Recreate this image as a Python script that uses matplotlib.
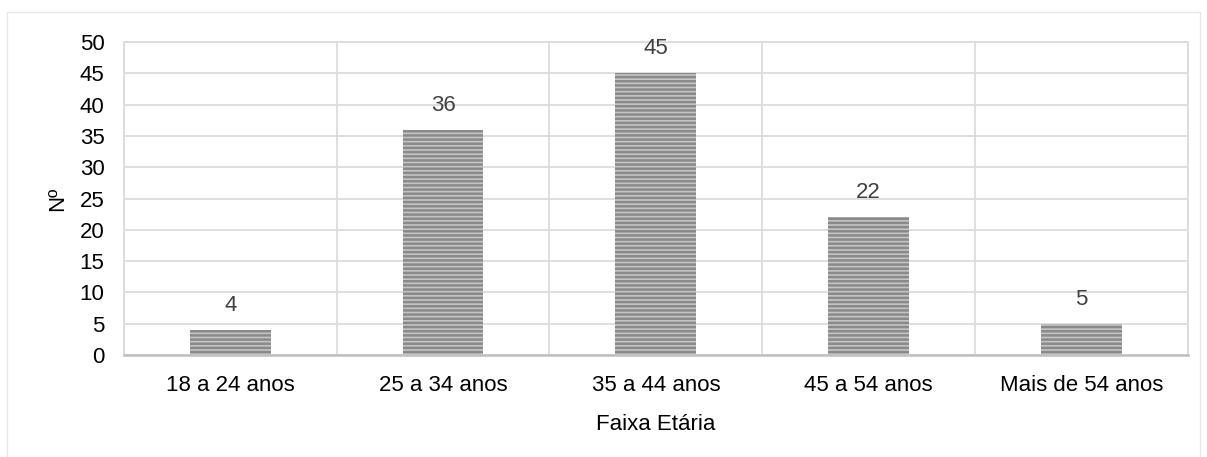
import matplotlib.pyplot as plt
import matplotlib.patches as mpatches
import numpy as np

plt.rcParams['font.family'] = ['Liberation Sans', 'DejaVu Sans']
plt.rcParams['hatch.color'] = '#5e5e5e'
plt.rcParams['hatch.linewidth'] = 1.8

faixas = ["18 a 24 anos", "25 a 34 anos", "35 a 44 anos", "45 a 54 anos", "Mais de 54 anos"]
numero = [4, 36, 45, 22, 5]

fig = plt.figure(figsize=(12.07, 4.57), dpi=100)
ax = fig.add_axes([0.1027, 0.223, 0.8813, 0.685])

# moldura clara do gráfico
fig.patches.append(mpatches.Rectangle((7 / 1207, -0.01), 1193 / 1207, 1 - 12 / 457 + 0.01,
                                      transform=fig.transFigure, fill=False,
                                      edgecolor='#e6e6e6', linewidth=1))

x = np.arange(len(faixas))
bars = ax.bar(x, numero, width=0.38, color='#c4c4c4', edgecolor='#8a8a8a',
              linewidth=0, hatch='----', zorder=3)

for xi, v in zip(x, numero):
    ax.annotate(str(v), (xi, v), xytext=(0, 10), textcoords='offset points',
                ha='center', va='bottom', fontsize=16, color='#404040')

ax.set_xlim(-0.5, len(faixas) - 0.5)
ax.set_ylim(0, 50)
ax.set_yticks(range(0, 51, 5))
ax.set_xticks(x)
ax.set_xticklabels(faixas)
ax.set_xticks(np.arange(-0.5, len(faixas), 1), minor=True)
ax.tick_params(axis='x', which='major', length=0, pad=14, labelsize=16)
ax.tick_params(axis='x', which='minor', length=0)
ax.tick_params(axis='y', length=0, pad=14, labelsize=16)

ax.grid(axis='y', color='#d9d9d9', linewidth=1.2, zorder=0)
ax.grid(axis='x', which='minor', color='#d9d9d9', linewidth=1.2, zorder=0)

for side in ['top', 'right', 'left']:
    ax.spines[side].set_color('#d9d9d9')
    ax.spines[side].set_linewidth(1.2)
ax.spines['bottom'].set_color('#bfbfbf')
ax.spines['bottom'].set_linewidth(1.8)

ax.set_xlabel("Faixa Etária", fontsize=16, labelpad=13)
ax.set_ylabel("Nº", fontsize=16, labelpad=8)

fig.savefig("out.png", dpi=100)
